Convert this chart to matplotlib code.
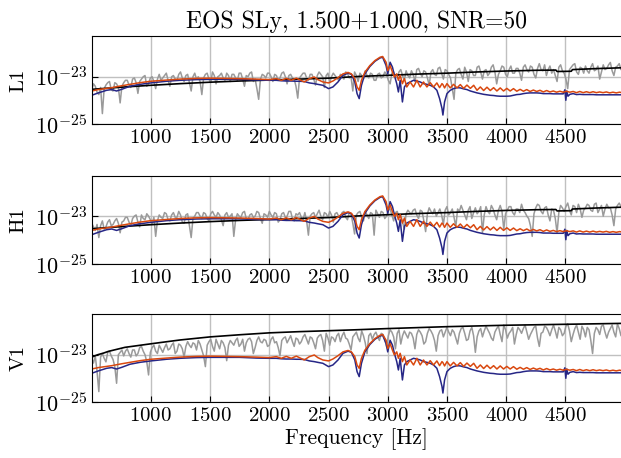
import numpy as np
import matplotlib
matplotlib.use("Agg")
import matplotlib.pyplot as plt

plt.rcParams['font.family'] = 'serif'
plt.rcParams['font.serif'] = ['cmr10']
plt.rcParams['mathtext.fontset'] = 'cm'
plt.rcParams['axes.formatter.use_mathtext'] = True

# ---- data (log10 of strain amplitude) ----
# noise realisation, sampled every 15 Hz from 500 Hz
freq_noise = list(range(500, 5000, 15))

noise_L1 = [
    -23.55, -23.30, -23.40, -23.65, -23.75, -23.45, -24.55, -23.50, -23.35, -23.25, -23.20, -23.55, -23.60, -23.25, -23.30, -23.45, -24.10, -23.40, -23.25, -23.15,
    -23.15, -23.35, -23.45, -23.10, -23.05, -23.25, -23.70, -23.20, -23.10, -23.00, -22.95, -23.40, -23.30, -23.05, -23.00, -23.20, -23.50, -23.10, -22.90, -23.15,
    -23.05, -22.95, -22.85, -23.15, -23.40, -23.00, -22.95, -23.10, -23.15, -22.90, -22.80, -23.05, -23.20, -22.95, -22.90, -23.25, -23.60, -23.00, -22.85, -23.10,
    -23.00, -23.20, -23.75, -23.05, -22.90, -22.85, -23.10, -23.25, -22.80, -22.95, -23.30, -23.00, -22.95, -22.85, -23.05, -23.15, -22.85, -22.95, -23.20, -22.90,
    -22.90, -23.05, -23.15, -22.85, -22.85, -23.10, -23.40, -22.95, -23.00, -22.85, -22.80, -23.20, -23.10, -23.50, -23.95, -23.10, -22.90, -22.95, -23.05, -22.85,
    -22.85, -23.00, -23.20, -22.90, -22.95, -23.15, -23.05, -22.85, -22.80, -23.00, -23.30, -22.95, -22.90, -23.05, -23.10, -23.40, -23.90, -23.05, -22.95, -22.85,
    -22.85, -23.05, -23.15, -22.90, -22.90, -23.10, -23.35, -22.95, -22.80, -22.90, -23.00, -23.45, -22.95, -22.85, -23.25, -23.00, -22.85, -22.95, -23.05, -23.15,
    -22.90, -23.00, -23.10, -22.80, -22.85, -23.05, -23.00, -23.60, -22.80, -22.95, -23.20, -22.85, -22.95, -23.10, -22.75, -22.95, -23.05, -22.85, -22.90, -23.15,
    -23.15, -22.90, -22.85, -23.05, -23.00, -22.80, -22.90, -23.15, -23.30, -22.85, -22.80, -23.00, -23.05, -22.80, -22.70, -22.95, -23.15, -22.75, -22.95, -23.05,
    -22.75, -22.90, -23.20, -22.70, -22.65, -22.85, -23.00, -22.75, -22.80, -23.05, -23.35, -22.80, -22.70, -22.90, -22.95, -22.65, -22.60, -22.85, -23.10, -22.70,
    -22.75, -22.90, -23.05, -23.50, -23.95, -22.85, -22.70, -22.65, -22.90, -23.10, -22.60, -22.80, -23.20, -22.70, -22.75, -22.95, -22.95, -22.60, -22.55, -22.80,
    -23.10, -22.75, -22.70, -22.95, -22.85, -22.60, -22.50, -22.80, -23.30, -22.90, -22.75, -22.55, -22.60, -22.90, -23.00, -22.70, -22.55, -22.85, -22.85, -22.65,
    -22.65, -22.85, -23.15, -22.60, -22.50, -22.70, -22.80, -22.55, -22.60, -22.90, -23.05, -22.65, -22.45, -22.70, -22.75, -22.50, -22.95, -22.70, -22.55, -22.85,
    -22.70, -22.95, -23.20, -22.60, -22.50, -22.75, -22.85, -23.10, -23.50, -22.70, -22.60, -22.50, -22.45, -22.80, -22.90, -22.60, -22.65, -22.85, -22.55, -22.75,
    -22.85, -22.60, -22.45, -22.75, -22.70, -22.55, -23.10, -22.80, -22.50, -22.70, -22.65, -22.50, -22.40, -22.75, -22.95, -22.60, -22.55, -22.45, -22.70, -22.60,
]

noise_H1 = [
    -23.30, -23.45, -23.60, -23.35, -23.90, -23.40, -23.20, -23.55, -23.45, -23.25, -23.15, -23.40, -23.35, -23.20, -23.10, -23.30, -23.70, -23.25, -23.20, -23.05,
    -23.05, -23.25, -23.40, -23.10, -23.00, -22.95, -23.25, -23.45, -22.95, -23.10, -23.15, -22.90, -23.00, -23.15, -23.35, -23.05, -23.85, -23.20, -22.95, -23.05,
    -23.10, -22.85, -22.90, -23.15, -23.20, -22.95, -22.85, -23.05, -23.05, -22.80, -22.95, -23.25, -23.30, -22.95, -22.90, -23.40, -23.90, -23.10, -23.00, -22.85,
    -22.85, -23.00, -23.10, -22.85, -22.90, -23.10, -23.20, -22.90, -22.80, -22.95, -23.05, -22.85, -22.95, -23.15, -23.40, -22.95, -22.85, -23.05, -23.00, -22.90,
    -23.85, -23.15, -22.90, -23.00, -23.05, -22.85, -22.80, -23.10, -23.15, -22.95, -22.90, -23.05, -23.00, -22.80, -22.85, -23.10, -23.30, -22.90, -22.95, -23.05,
    -22.80, -22.95, -23.05, -22.85, -22.90, -23.25, -23.15, -22.90, -22.85, -23.05, -23.00, -22.80, -22.80, -23.10, -23.20, -22.90, -22.95, -22.85, -23.05, -23.15,
    -22.85, -23.20, -23.80, -23.00, -22.90, -22.85, -23.05, -22.90, -22.75, -23.00, -23.15, -22.85, -22.90, -23.05, -22.80, -22.95, -23.25, -22.90, -22.85, -23.00,
    -23.00, -22.85, -22.80, -23.05, -23.15, -22.85, -22.90, -23.30, -23.75, -22.95, -22.85, -22.80, -23.05, -23.20, -22.80, -22.95, -23.10, -22.85, -22.90, -23.80,
    -22.75, -22.90, -23.05, -22.80, -22.85, -23.10, -23.00, -22.75, -22.70, -22.95, -23.20, -22.85, -22.80, -23.05, -22.95, -23.25, -23.55, -22.90, -22.75, -22.85,
    -22.90, -22.75, -22.70, -22.95, -23.10, -22.75, -22.80, -23.20, -23.65, -22.90, -22.65, -22.80, -22.90, -22.70, -23.00, -22.85, -22.70, -22.95, -23.35, -22.75,
    -22.60, -22.95, -22.85, -22.70, -23.05, -23.45, -22.70, -22.80, -22.55, -22.75, -22.95, -23.15, -22.75, -22.60, -23.10, -22.85, -22.65, -22.90, -22.80, -22.60,
    -23.70, -22.95, -22.60, -22.80, -22.90, -22.55, -22.70, -22.95, -23.15, -22.75, -22.55, -22.80, -23.55, -22.90, -22.75, -22.60, -22.60, -22.85, -22.95, -22.70,
    -22.70, -22.85, -22.50, -22.75, -22.85, -23.00, -23.10, -23.40, -23.85, -22.90, -22.65, -22.50, -22.55, -22.80, -22.90, -22.65, -22.60, -22.95, -23.20, -22.70,
    -22.75, -23.10, -23.70, -22.85, -22.55, -22.65, -22.80, -22.60, -22.45, -22.75, -22.95, -22.55, -22.60, -22.85, -22.50, -22.70, -23.05, -22.75, -22.65, -22.50,
    -22.55, -22.75, -22.80, -22.50, -22.45, -22.85, -22.70, -22.55, -23.00, -22.70, -22.50, -22.65, -22.65, -22.95, -23.40, -22.70, -22.55, -22.45, -22.60, -22.75,
]

noise_V1 = [
    -23.15, -23.35, -23.05, -23.70, -24.55, -23.10, -22.95, -23.15, -23.30, -22.90, -22.85, -23.05, -23.20, -23.50, -24.20, -23.00, -22.90, -22.80, -23.05, -22.85,
    -22.75, -22.95, -23.10, -22.80, -22.80, -23.05, -22.95, -22.70, -22.65, -22.85, -23.00, -23.30, -23.85, -22.90, -22.70, -22.60, -22.85, -22.95, -22.60, -22.75,
    -22.90, -22.70, -22.55, -22.80, -22.75, -22.60, -22.50, -22.95, -22.85, -22.55, -22.60, -22.75, -23.10, -22.65, -22.45, -22.60, -22.70, -22.50, -22.55, -22.80,
    -22.40, -22.55, -22.80, -23.05, -23.50, -22.60, -22.45, -22.35, -22.65, -22.85, -22.35, -22.55, -22.75, -22.40, -22.50, -22.70, -23.25, -22.60, -22.40, -22.50,
    -22.60, -22.40, -22.30, -22.65, -22.55, -22.35, -22.85, -22.50, -22.35, -22.30, -22.45, -22.95, -22.70, -22.40, -22.25, -22.45, -22.50, -22.35, -22.40, -22.65,
    -22.60, -22.35, -22.25, -22.50, -22.45, -22.70, -23.05, -22.40, -22.30, -22.25, -22.50, -22.35, -22.20, -22.45, -22.65, -22.30, -22.35, -22.55, -22.45, -22.25,
    -22.15, -22.35, -22.55, -22.25, -22.30, -22.50, -22.75, -22.30, -22.20, -22.15, -22.40, -22.85, -22.10, -22.30, -22.60, -22.25, -22.30, -22.45, -22.20, -22.10,
    -22.45, -22.20, -22.05, -22.30, -22.35, -22.55, -22.80, -22.25, -22.15, -22.05, -22.30, -22.45, -22.00, -22.20, -22.50, -22.95, -22.20, -22.10, -22.35, -22.15,
    -22.05, -22.25, -22.40, -22.10, -22.15, -22.35, -22.65, -22.20, -21.95, -22.05, -22.25, -22.75, -22.10, -21.95, -22.55, -22.20, -22.00, -22.15, -22.30, -22.05,
    -22.10, -22.30, -22.75, -22.15, -21.95, -22.05, -22.20, -22.55, -22.45, -22.10, -21.90, -22.00, -22.15, -22.40, -22.85, -22.20, -22.00, -21.95, -22.25, -22.05,
    -21.85, -22.05, -22.20, -21.95, -22.05, -22.30, -22.55, -22.10, -21.90, -21.85, -22.10, -22.40, -22.35, -22.00, -21.85, -22.20, -22.90, -22.25, -22.00, -21.90,
    -22.25, -22.00, -21.80, -21.95, -22.10, -22.30, -22.40, -22.05, -21.90, -21.80, -22.15, -22.45, -21.75, -21.95, -22.30, -22.10, -22.00, -21.85, -22.55, -22.15,
    -21.85, -21.95, -22.10, -21.90, -21.75, -22.05, -22.35, -22.15, -22.00, -21.85, -21.80, -22.30, -22.65, -22.10, -22.05, -21.80, -21.85, -22.00, -22.20, -21.95,
    -21.75, -22.00, -22.30, -21.85, -21.95, -22.20, -22.10, -21.80, -21.70, -22.00, -22.45, -22.15, -21.90, -21.75, -22.05, -22.35, -21.80, -21.95, -22.25, -21.85,
    -21.95, -22.40, -22.95, -22.10, -21.85, -21.95, -22.15, -21.80, -21.75, -22.05, -22.30, -22.05, -21.90, -21.75, -22.05, -22.25, -21.70, -21.90, -22.20, -21.95,
]

# detector ASD curves
freq_ligo = [500, 750, 1000, 1250, 1500, 1750, 2000, 2250, 2500, 2750, 3000,
             3250, 3500, 3750, 4000, 4250, 4420, 4430, 4550, 4560, 4750, 5000]
asd_ligo = [-23.53, -23.44, -23.36, -23.29, -23.23, -23.18, -23.14, -23.10, -23.06,
            -22.99, -22.94, -22.89, -22.85, -22.80, -22.76, -22.73, -22.72, -22.78,
            -22.77, -22.70, -22.66, -22.62]

freq_virgo = [500, 550, 600, 640, 780, 1000, 1245, 1500, 1750, 2000, 2250, 2500,
              2735, 3000, 3500, 4000, 4500, 5000]
asd_virgo = [-23.10, -23.00, -22.93, -22.86, -22.69, -22.54, -22.38, -22.25, -22.16,
             -22.08, -22.03, -21.99, -21.95, -21.90, -21.82, -21.76, -21.72, -21.68]

# injected waveform and reconstruction
freq_sig = [500, 556, 626, 669, 710, 753, 823, 907, 1000, 1132, 1244, 1385, 1500,
            1638, 1750, 1890, 2000, 2059, 2101, 2143, 2185, 2228, 2253, 2295, 2338,
            2380, 2409, 2452, 2500, 2537, 2580, 2622, 2665, 2693, 2722, 2741, 2759,
            2778, 2807, 2849, 2892, 2935, 2957, 2986, 3000, 3020, 3040, 3056, 3076,
            3090, 3105, 3124, 3141, 3161, 3189, 3218, 3246, 3274, 3302, 3331, 3359,
            3387, 3415, 3438, 3458, 3466, 3480, 3500, 3528, 3556, 3585, 3613, 3641,
            3669, 3698, 3726, 3754, 3782, 3810, 3838, 3866, 3894, 3922, 3950, 3978,
            4006, 4034, 4062, 4090, 4118, 4146, 4174, 4202, 4230, 4258, 4286, 4314,
            4342, 4370, 4398, 4426, 4454, 4482, 4496, 4504, 4512, 4522, 4538, 4566,
            4594, 4622, 4650, 4678, 4706, 4734, 4762, 4790, 4818, 4846, 4874, 4902,
            4930, 4958, 4990]

recon = [-23.60, -23.54, -23.49, -23.46, -23.42, -23.38, -23.32, -23.25, -23.19,
         -23.14, -23.10, -23.07, -23.06, -23.07, -23.08, -23.10, -23.12, -23.08,
         -23.15, -23.07, -23.15, -23.06, -23.12, -23.22, -23.08, -23.01, -23.12,
         -23.22, -23.26, -23.18, -23.04, -22.88, -22.82, -22.88, -23.08, -23.43,
         -23.57, -23.15, -22.81, -22.53, -22.32, -22.18, -22.15, -22.39, -22.74,
         -22.53, -22.81, -23.01, -22.88, -23.15, -22.94, -23.29, -23.08, -23.43,
         -23.22, -23.43, -23.15, -23.43, -23.22, -23.43, -23.25, -23.43, -23.26,
         -23.46, -23.29, -23.33, -23.47, -23.29, -23.47, -23.32, -23.47, -23.33,
         -23.49, -23.35, -23.49, -23.36, -23.57, -23.43, -23.58, -23.44, -23.58,
         -23.46, -23.60, -23.47, -23.60, -23.49, -23.60, -23.50, -23.61, -23.53,
         -23.61, -23.54, -23.62, -23.56, -23.62, -23.57, -23.64, -23.58, -23.64,
         -23.60, -23.65, -23.61, -23.65, -23.63, -23.62, -23.61, -23.63, -23.65,
         -23.62, -23.67, -23.62, -23.67, -23.63, -23.67, -23.63, -23.67, -23.64,
         -23.67, -23.64, -23.68, -23.65, -23.68, -23.65, -23.68]

injected = [-23.78, -23.68, -23.57, -23.54, -23.60, -23.53, -23.40, -23.32, -23.26,
            -23.19, -23.15, -23.12, -23.11, -23.11, -23.11, -23.14, -23.15, -23.15,
            -23.17, -23.18, -23.18, -23.19, -23.19, -23.20, -23.26, -23.29, -23.32,
            -23.36, -23.50, -23.43, -23.22, -22.94, -22.85, -22.90, -23.22, -23.71,
            -23.92, -23.36, -22.88, -22.57, -22.35, -22.21, -22.18, -22.53, -22.88,
            -22.39, -22.60, -22.94, -23.29, -23.64, -23.15, -24.06, -23.43, -23.29,
            -23.22, -23.15, -23.18, -23.22, -23.29, -23.32, -23.36, -23.43, -23.57,
            -23.92, -24.33, -24.61, -24.06, -23.71, -23.57, -23.50, -23.46, -23.47,
            -23.51, -23.54, -23.60, -23.64, -23.68, -23.71, -23.74, -23.76, -23.78,
            -23.79, -23.81, -23.82, -23.82, -23.82, -23.81, -23.78, -23.75, -23.74,
            -23.71, -23.69, -23.68, -23.68, -23.68, -23.69, -23.71, -23.71, -23.71,
            -23.72, -23.72, -23.72, -23.72, -23.55, -23.99, -23.60, -23.82, -23.74,
            -23.71, -23.75, -23.74, -23.75, -23.75, -23.75, -23.75, -23.76, -23.76,
            -23.76, -23.76, -23.76, -23.76, -23.76, -23.76, -23.76]

detectors = ["L1", "H1", "V1"]
noises = [noise_L1, noise_H1, noise_V1]
asd_freqs = [freq_ligo, freq_ligo, freq_virgo]
asds = [asd_ligo, asd_ligo, asd_virgo]

fig = plt.figure(figsize=(6.21, 4.58), dpi=100)

bottoms = [0.7286, 0.4242, 0.1216]
for i in range(3):
    ax = fig.add_axes([0.1477, bottoms[i], 0.8523, 0.1921])
    ax.plot(freq_noise, 10**np.array(noises[i]), color='#9a9a9a', lw=1.1)
    ax.plot(asd_freqs[i], 10**np.array(asds[i]), color='black', lw=1.2)
    ax.plot(freq_sig, 10**np.array(injected), color='#262686', lw=1.1)
    ax.plot(freq_sig, 10**np.array(recon), color='#d9480f', lw=1.1)

    ax.set_yscale('log')
    ax.set_xlim(500, 4970)
    ax.set_ylim(1e-25, 5e-22)
    ax.set_yticks([1e-25, 1e-23])
    ax.minorticks_off()
    ax.set_xticks([1000, 1500, 2000, 2500, 3000, 3500, 4000, 4500])
    ax.tick_params(direction='in', labelsize=15, length=4)
    ax.tick_params(axis='y', labelsize=16)
    ax.grid(True, color='#c0c0c0', lw=1.0)
    ax.set_axisbelow(True)
    ax.spines['right'].set_visible(False)
    ax.set_ylabel(detectors[i], fontsize=15, labelpad=5)

    if i == 0:
        ax.set_title("EOS SLy, 1.500+1.000, SNR=50", fontsize=17, pad=6)
    if i == 2:
        ax.set_xlabel("Frequency [Hz]", fontsize=15.5, labelpad=2)

plt.savefig('out.png', dpi=100)
